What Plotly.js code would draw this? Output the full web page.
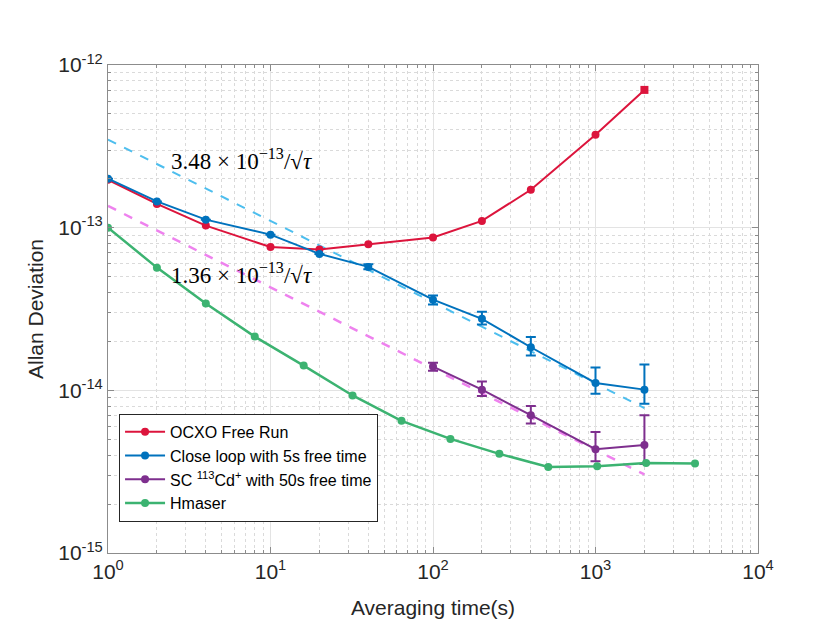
<!DOCTYPE html>
<html>
<head>
<meta charset="utf-8">
<script src="https://cdn.plot.ly/plotly-3.0.1.min.js"></script>
<style>
  body { margin: 0; background: #fff; }
  #myGraph { width: 830px; height: 641px; }
</style>
</head>
<body>
<div id="myGraph"></div>
<script>
let myGraph = document.getElementById('myGraph');

// OCXO free run
let ocxoX = [1, 2, 4, 10, 20, 40, 100, 200, 400, 1000, 2000];
let ocxoY = [1.97e-13, 1.40e-13, 1.03e-13, 7.6e-14, 7.35e-14, 7.9e-14, 8.7e-14, 1.10e-13, 1.71e-13, 3.72e-13, 7.03e-13];

// close loop, 5s free time
let loopX = [1, 2, 4, 10, 20, 40, 100, 200, 400, 1000, 2000];
let loopY = [2.0e-13, 1.45e-13, 1.12e-13, 9.06e-14, 6.9e-14, 5.74e-14, 3.61e-14, 2.75e-14, 1.84e-14, 1.11e-14, 1.01e-14];
let loopHi = [0, 0, 0, 0, 0, 5.95e-14, 3.83e-14, 3.04e-14, 2.13e-14, 1.38e-14, 1.44e-14];
let loopLo = [0, 0, 0, 0, 0, 5.55e-14, 3.37e-14, 2.54e-14, 1.64e-14, 9.54e-15, 8.28e-15];

// SC 113Cd+ 50s free time
let cdX = [100, 200, 400, 1000, 2000];
let cdY = [1.40e-14, 1.01e-14, 7.03e-15, 4.35e-15, 4.62e-15];
let cdHi = [1.48e-14, 1.135e-14, 8.02e-15, 5.55e-15, 7.03e-15];
let cdLo = [1.32e-14, 9.23e-15, 6.25e-15, 3.66e-15, 3.53e-15];

// H maser
let hmX = [1, 2, 4, 8, 16, 32, 64, 128, 256, 512, 1024, 2048, 4096];
let hmY = [1.0e-13, 5.68e-14, 3.42e-14, 2.14e-14, 1.42e-14, 9.3e-15, 6.49e-15, 5.03e-15, 4.07e-15, 3.38e-15, 3.42e-15, 3.58e-15, 3.55e-15];

// 拟合虚线端点
let fitX = [1, 2000];
let fitCyan = [3.48e-13, 7.78e-15];
let fitPink = [1.36e-13, 3.04e-15];

let xTicks = [1, 10, 100, 1000, 10000];
let xTickText = ['10<sup>0</sup>', '10<sup>1</sup>', '10<sup>2</sup>', '10<sup>3</sup>', '10<sup>4</sup>'];
let yTicks = [1e-15, 1e-14, 1e-13, 1e-12];
let yTickText = ['10<sup>-15</sup>', '10<sup>-14</sup>', '10<sup>-13</sup>', '10<sup>-12</sup>'];

function errs(y, hi, lo) {
  return {
    plus: y.map((v, i) => hi[i] ? hi[i] - v : 0),
    minus: y.map((v, i) => lo[i] ? v - lo[i] : 0),
  };
}

let loopErr = errs(loopY, loopHi, loopLo);
let cdErr = errs(cdY, cdHi, cdLo);

let traceCyan = {
  type: 'scatter', mode: 'lines', x: fitX, y: fitCyan,
  line: { color: '#4dbeee', width: 2, dash: 'dash' },
  showlegend: false, hoverinfo: 'skip',
};
let tracePink = {
  type: 'scatter', mode: 'lines', x: fitX, y: fitPink,
  line: { color: '#ee82ee', width: 2.5, dash: 'dash' },
  showlegend: false, hoverinfo: 'skip',
};

let trace1 = {
  type: 'scatter', mode: 'lines+markers', x: ocxoX, y: ocxoY,
  name: 'OCXO Free Run',
  line: { color: '#dc143c', width: 2 },
  marker: { color: '#dc143c', size: 8, symbol: ocxoX.map((v, i) => i === ocxoX.length - 1 ? 'square' : 'circle') },
};
let trace2 = {
  type: 'scatter', mode: 'lines+markers', x: loopX, y: loopY,
  name: 'Close loop with 5s free time',
  line: { color: '#0072bd', width: 2 },
  marker: { color: '#0072bd', size: 8 },
  error_y: { type: 'data', symmetric: false, array: loopErr.plus, arrayminus: loopErr.minus, color: '#0072bd', thickness: 2, width: 5 },
};
let trace3 = {
  type: 'scatter', mode: 'lines+markers', x: cdX, y: cdY,
  name: 'SC <sup>113</sup>Cd<sup>+</sup> with 50s free time',
  line: { color: '#7e2f8e', width: 2 },
  marker: { color: '#7e2f8e', size: 8 },
  error_y: { type: 'data', symmetric: false, array: cdErr.plus, arrayminus: cdErr.minus, color: '#7e2f8e', thickness: 2, width: 5 },
};
let trace4 = {
  type: 'scatter', mode: 'lines+markers', x: hmX, y: hmY,
  name: 'Hmaser',
  line: { color: '#3cb371', width: 2.5 },
  marker: { color: '#3cb371', size: 8 },
};

let data = [traceCyan, tracePink, trace1, trace2, trace3, trace4];

let axisCommon = {
  type: 'log',
  tickmode: 'array',
  showline: true,
  linecolor: '#8c8c8c',
  linewidth: 1,
  mirror: 'allticks',
  ticks: 'inside',
  ticklen: 6,
  tickcolor: '#8c8c8c',
  showgrid: true,
  gridcolor: '#e3e3e3',
  gridwidth: 1,
  zeroline: false,
  tickfont: { family: 'Liberation Sans, Arial, sans-serif', size: 21, color: '#262626' },
  minor: { dtick: 'D1', showgrid: true, gridcolor: '#dadada', griddash: 'dot', ticks: 'inside', ticklen: 3, tickcolor: '#8c8c8c' },
};

let layout = {
  width: 830,
  height: 641,
  paper_bgcolor: '#fff',
  plot_bgcolor: '#fff',
  margin: { l: 108, r: 72, t: 65, b: 88 },
  font: { family: 'Liberation Sans, Arial, sans-serif', color: '#262626' },
  xaxis: Object.assign({}, axisCommon, {
    range: [0, 4],
    tickvals: xTicks,
    ticktext: xTickText,
    title: { text: 'Averaging time(s)', font: { size: 21, color: '#262626' }, standoff: 18 },
  }),
  yaxis: Object.assign({}, axisCommon, {
    range: [-15, -12],
    tickvals: yTicks,
    ticktext: yTickText,
    title: { text: 'Allan Deviation', font: { size: 21, color: '#262626' }, standoff: 8 },
  }),
  legend: {
    x: 0.017, y: 0.064, xanchor: 'left', yanchor: 'bottom',
    bgcolor: '#fff', bordercolor: '#262626', borderwidth: 1,
    font: { size: 16, color: '#000' },
    itemwidth: 40,
    tracegroupgap: 0,
  },
  annotations: [
    {
      x: Math.log10(2.36), y: Math.log10(2.61e-13), xref: 'x', yref: 'y',
      text: '3.48 × 10<sup>−13</sup>/√<i>τ</i>',
      showarrow: false, xanchor: 'left',
      font: { family: 'Liberation Serif, Times New Roman, serif', size: 23, color: '#000' },
    },
    {
      x: Math.log10(2.36), y: Math.log10(5.2e-14), xref: 'x', yref: 'y',
      text: '1.36 × 10<sup>−13</sup>/√<i>τ</i>',
      showarrow: false, xanchor: 'left',
      font: { family: 'Liberation Serif, Times New Roman, serif', size: 23, color: '#000' },
    },
  ],
};

Plotly.newPlot(myGraph, data, layout, { displayModeBar: false, staticPlot: true });
</script>
</body>
</html>
